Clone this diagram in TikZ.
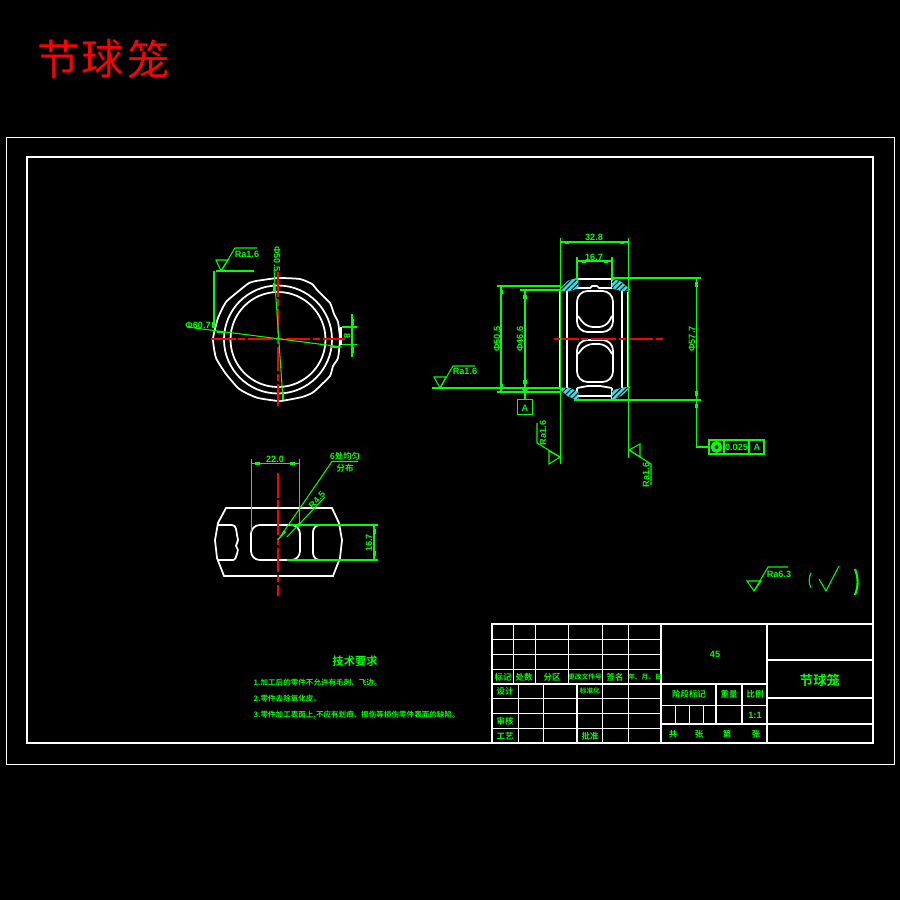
\documentclass[tikz,border=0pt]{standalone}
\usepackage{fontspec}
\setmainfont{Liberation Sans}
\newfontfamily\cjk[BoldFont={Noto Sans CJK SC Bold}]{Noto Sans CJK SC}
\usetikzlibrary{calc,patterns.meta}
\definecolor{cadgreen}{RGB}{0,255,0}
\definecolor{cadcyan}{RGB}{60,220,230}
\tikzset{
part/.style = {draw = white, line width = .5pt},
gridline/.style = {draw = white, line width = .28pt},
dim/.style = {draw = cadgreen, line width = .3pt},
tick/.style = {fill = cadgreen},
axis/.style = {draw = red, line width = .4pt, dash pattern = on 7pt off .8pt on 2pt off .8pt},
gtxt/.style = {text = cadgreen, inner sep = 0pt, font = \fontsize{2.6}{3}\selectfont\bfseries},
ctxt/.style = {text = cadgreen, inner sep = 0pt, font = \cjk\fontsize{2.4}{3}\selectfont\bfseries},
stxt/.style = {text = cadgreen, inner sep = 0pt, font = \cjk\fontsize{1.9}{3}\selectfont\bfseries},
reqtxt/.style = {text = cadgreen, inner sep = 0pt, anchor = west, font = \cjk\fontsize{2.15}{3}\selectfont\bfseries},
titletxt/.style = {text = red, inner sep = 0pt, font = \cjk\fontsize{12}{12}\selectfont},
hatched/.style = {fill = cadcyan, draw = cadcyan, line width = .2pt, postaction = {pattern = {Lines[angle = 45, distance = 1.1pt, line width = .3pt]}, pattern color = black}}
}
\begin{document}
\begin{tikzpicture}[x = .01cm, y = -.01cm]
\fill[black] (0,0) rectangle (900,900);
\useasboundingbox (0,0) rectangle (900,900);

% title and frames
\node[titletxt] (title) at (59,59) {节};
\node[titletxt] (title2) at (103,59) {球};
\node[titletxt] (title3) at (149,59) {笼};
\draw[gridline] (6,137) rectangle (894,764);
\draw[part] (27,157) rectangle (873,743);

% top view
\foreach \r in {47.5,54} \draw[part] (278,339.5) circle ({\r});
\draw[part] plot[smooth cycle, tension = .3] coordinates {
(278,278) (300,279) (312,284) (318,291) (330,303) (334,314) (338,322) (340,339) (338,358) (333,366) (330,376)
(318,388) (312,393) (302,397) (280,401) (258,398) (246,393) (238,388) (226,374) (216,358) (213,339)
(218,318) (226,302) (240,290) (249,283) (256,281)};
\draw[part] (341,327) -- (341,345);
\draw[axis] (211,339) -- (345,339);
\draw[axis] (278,272) -- (278,406);

% top view dimensions
\draw[dim] (214,271) -- (214,328);
\draw[dim] (187,327) -- (342,347);
\draw[dim] (216,271) -- (254,271);
\draw[dim] (216,260) -- (228,260) -- (221,271) -- cycle;
\draw[dim] (221,271) -- (235,248) -- (257,248);
\draw[dim] (274,270) -- (283,400);
\fill[tick] (272.5,283) rectangle (275,292);
\fill[tick] (282,392) rectangle (284,400);
\fill[tick] (212,322) rectangle (215,328);
\fill[tick] (217,331) rectangle (225,333);
\fill[tick] (331,345.5) rectangle (340,347.5);
\draw[dim] (342,327) -- (357,327);
\draw[dim] (342,344.5) -- (357,344.5);
\draw[dim] (352,314) -- (352,357);
\fill[tick] (350.5,319) rectangle (353.5,325);
\fill[tick] (350.5,347) rectangle (353.5,353);
\node[gtxt] (rtop) at (247,254) {Ra1.6};
\node[gtxt] (ptop) at (198,325) {Φ60.7};
\node[gtxt, rotate = -90] (pvert) at (277,259) {Φ50.5};
\node[gtxt, rotate = -90] (sdim) at (347,336) {8};

% side view
\draw[part] (560,290) -- (560,388) (567,290) -- (567,388);
\draw[part] (622,290) -- (622,388) (628,292) -- (628,388);
\draw[part] (577,279) -- (612,279) (577,288) -- (590,288) -- (592,286) -- (597,286) -- (599,288) -- (612,288);
\draw[part] (577,396) -- (612,396) (577,388) -- (588,386) -- (600,386) -- (612,388);
\draw[part] (577,279) -- (577,288) (612,279) -- (612,288);
\draw[part] (577,388) -- (577,400) -- (612,400) -- (612,388);
\draw[part, rounded corners = 3pt] (577,291) -- (577,332) -- (613,332) -- (613,291) -- cycle;
\draw[part, rounded corners = 2pt] (578,316) -- (586,327) -- (606,327) -- (612,316);
\draw[part, rounded corners = 3pt] (577,340) -- (577,382) -- (613,382) -- (613,340) -- cycle;
\draw[part, rounded corners = 2pt] (578,354) -- (586,344) -- (606,344) -- (612,354);
\draw[hatched] (559,290) -- (568,281) -- (578,278) -- (578,288) -- (569,291) -- cycle;
\draw[hatched] (612,279) -- (621,282) -- (630,290) -- (622,291) -- (612,288) -- cycle;
\draw[hatched] (559,388) -- (569,388) -- (578,392) -- (578,400) -- (568,396) -- cycle;
\draw[hatched] (612,391) -- (622,388) -- (630,387) -- (622,395) -- (612,400) -- cycle;
\draw[axis] (554,339) -- (663,339);

% side view dimensions
\draw[dim] (560.5,238) -- (560.5,464);
\draw[dim] (628.5,238) -- (628.5,458);
\draw[dim] (561,242) -- (628,242);
\draw[dim] (577,257) -- (577,280) (612,257) -- (612,280);
\draw[dim] (577,261) -- (612,261);
\draw[dim] (613,278) -- (701,278);
\draw[dim] (574,400) -- (701,400);
\draw[dim] (696.5,278) -- (696.5,447) -- (709,447);
\draw[dim] (497,286) -- (560,286) (497,392) -- (560,392);
\draw[dim] (520,290) -- (560,290) (432,388) -- (560,388);
\draw[dim] (501,286) -- (501,392);
\draw[dim] (525,290) -- (525,399);
\fill[tick] (565,240.5) rectangle ++(4,3);
\fill[tick] (620,240.5) rectangle ++(4,3);
\fill[tick] (582,259.5) rectangle ++(4,3);
\fill[tick] (604,259.5) rectangle ++(4,3);
\fill[tick] (499.5,290) rectangle ++(3,4);
\fill[tick] (499.5,384) rectangle ++(3,4);
\fill[tick] (523,295) rectangle ++(3.5,4);
\fill[tick] (523,380) rectangle ++(3.5,4);
\fill[tick] (521,388) -- (529,388) -- (526,392) -- (526,394) -- (524,394) -- (524,392) -- cycle;
\fill[tick] (695,282) rectangle ++(3,5);
\fill[tick] (695,391) rectangle ++(3,5);
\fill[tick] (695,404) rectangle ++(3,4);
\draw[dim] (517.5,399.5) rectangle (532.5,414.5);
\node[gtxt] (datum) at (525,408) {A};
\node[gtxt] (d1) at (594,237) {32.8};
\node[gtxt] (d2) at (594,257) {16.7};
\node[gtxt, rotate = 90] (d3) at (497,339) {Φ50.5};
\node[gtxt, rotate = 90] (d4) at (520,339) {Φ46.6};
\node[gtxt, rotate = 90] (d5) at (692,339) {Φ57.7};
\draw[dim] (434,377) -- (446,377) -- (440,388) -- cycle;
\draw[dim] (440,388) -- (453,366) -- (475,366);
\node[gtxt] (rside) at (465,371) {Ra1.6};
\draw[dim] (537,423) -- (537,443) -- (560,457);
\draw[dim] (560,457) -- (549,451) -- (549,464) -- cycle;
\node[gtxt, rotate = 90] (rleft) at (543,433) {Ra1.6};
\draw[dim] (629,450) -- (640,444) -- (640,457) -- cycle;
\draw[dim] (629,450) -- (651,464) -- (651,485);
\node[gtxt, rotate = 90] (rright) at (646,475) {Ra1.6};

% tolerance frame
\draw[dim] (709,440) rectangle (764,454);
\draw[dim] (724,440) -- (724,454) (749,440) -- (749,454);
\draw[cadgreen, line width = .5pt] (716.5,447) circle (5) (716.5,447) circle (3);
\node[gtxt] (tol) at (736.5,447.5) {0.025};
\node[gtxt] (tolref) at (757,447.5) {A};

% front view
\draw[part] (226,508) -- (332,508) -- (339,523) -- (342,540) -- (340,558) -- (333,576) -- (224,576) -- (217,558) -- (215,540) -- (218,523) -- cycle;
\draw[part] (217,525) -- (232,525) to[out = 0, in = 100] (237,535) -- (238,540) -- (236,546) -- (238,550) to[out = 90, in = 0] (233,560) -- (217,560);
\draw[part, rounded corners = 2.5pt] (251,525) -- (251,560) -- (300,560) -- (300,525) -- cycle;
\draw[part, rounded corners = 2pt] (339,525) -- (313,525) -- (313,560) -- (339,560);
\draw[axis] (278,473) -- (278,596);

% front view dimensions
\draw[dim] (251.5,459) -- (251.5,531) (299.5,459) -- (299.5,525);
\draw[dim] (252,463.5) -- (299,463.5);
\fill[tick] (255,462) rectangle ++(5,3);
\fill[tick] (290,462) rectangle ++(5,3);
\draw[dim] (278,540) -- (332,461.5) -- (358,461.5);
\draw[dim] (287,537) -- (325,497);
\fill[tick] (278,540) -- (284,530) -- (286,532) -- cycle;
\fill[tick] (297,524) -- (301,522) -- (299,528) -- cycle;
\draw[dim] (290,525) -- (378,525) (287,560) -- (378,560);
\draw[dim] (374,525) -- (374,560);
\fill[tick] (372.5,529) rectangle ++(3,5);
\fill[tick] (372.5,551) rectangle ++(3,5);
\node[ctxt] (note1) at (345,456) {6处均匀};
\node[ctxt] (note2) at (345,468) {分布};
\node[gtxt, rotate = 47] (rfront) at (317,500) {R4.5};
\node[gtxt] (wfront) at (275,459) {22.0};
\node[gtxt, rotate = 90] (hfront) at (369,543) {16.7};

% roughness
\draw[dim] (747,581) -- (761,581) -- (754,591) -- cycle;
\draw[dim] (754,591) -- (768,567) -- (788,567);
\node[gtxt] (rother) at (779,574) {Ra6.3};
\draw[cadgreen, line width = .3pt] (811,573) to[bend right = 25] (811,588);
\draw[cadgreen, line width = .3pt] (819,579) -- (826,591) -- (839,566);
\draw[cadgreen, line width = .6pt] (855,569) to[bend left = 20] (855,595);

% technical requirements
\node[ctxt, font = \cjk\fontsize{3.2}{4}\selectfont\bfseries] (req) at (355,661) {技术要求};
\node[reqtxt] (req1) at (253,683) {1.加工后的零件不允许有毛刺、飞边。};
\node[reqtxt] (req2) at (253,699) {2.零件去除氧化皮。};
\node[reqtxt] (req3) at (253,715) {3.零件加工表面上,不应有划痕、擦伤等损伤零件表面的缺陷。};

% title block
\draw[part] (492,624) rectangle (873,743);
\draw[part] (661,624) -- (661,743) (767,624) -- (767,743);
\foreach \y in {639,654,669} \draw[gridline] (492,\y) -- (661,\y);
\foreach \y in {698,713,728} \draw[gridline] (492,\y) -- (661,\y);
\draw[part] (492,684) -- (767,684);
\foreach \x in {513,535,568,602,628} \draw[gridline] (\x,624) -- (\x,684);
\foreach \x in {518,543,602,628} \draw[gridline] (\x,684) -- (\x,743);
\draw[part] (577,684) -- (577,743);
\draw[part] (767,660) -- (873,660) (767,698) -- (873,698) (767,724) -- (873,724);
\draw[gridline] (661,705) -- (767,705);
\draw[part] (661,724) -- (767,724);
\draw[part] (716,684) -- (716,724) (742,684) -- (742,724);
\foreach \x in {675,689,703} \draw[gridline] (\x,705) -- (\x,724);
\node[ctxt] (t1) at (503,677) {标记};
\node[ctxt] (t2) at (524,677) {处数};
\node[ctxt] (t3) at (552,677) {分区};
\node[stxt] (t4) at (585,677) {更改文件号};
\node[ctxt] (t5) at (615,677) {签名};
\node[stxt] (t6) at (645,677) {年、月、日};
\node[ctxt] (t7) at (505,691) {设计};
\node[stxt] (t8) at (590,691) {标准化};
\node[ctxt] (t9) at (505,721) {审核};
\node[ctxt] (t10) at (505,736) {工艺};
\node[ctxt] (t11) at (590,736) {批准};
\node[gtxt] (t12) at (715,654) {45};
\node[ctxt] (t13) at (689,694) {阶段标记};
\node[ctxt] (t14) at (729,694) {重量};
\node[ctxt] (t15) at (755,694) {比例};
\node[gtxt] (t16) at (755,715) {1:1};
\node[ctxt] (t17) at (673,734) {共};
\node[ctxt] (t18) at (699,734) {张};
\node[ctxt] (t19) at (727,734) {第};
\node[ctxt] (t20) at (756,734) {张};
\node[ctxt, font = \cjk\fontsize{3.8}{4}\selectfont\bfseries] (t21) at (820,680) {节球笼};
\end{tikzpicture}
\end{document}
